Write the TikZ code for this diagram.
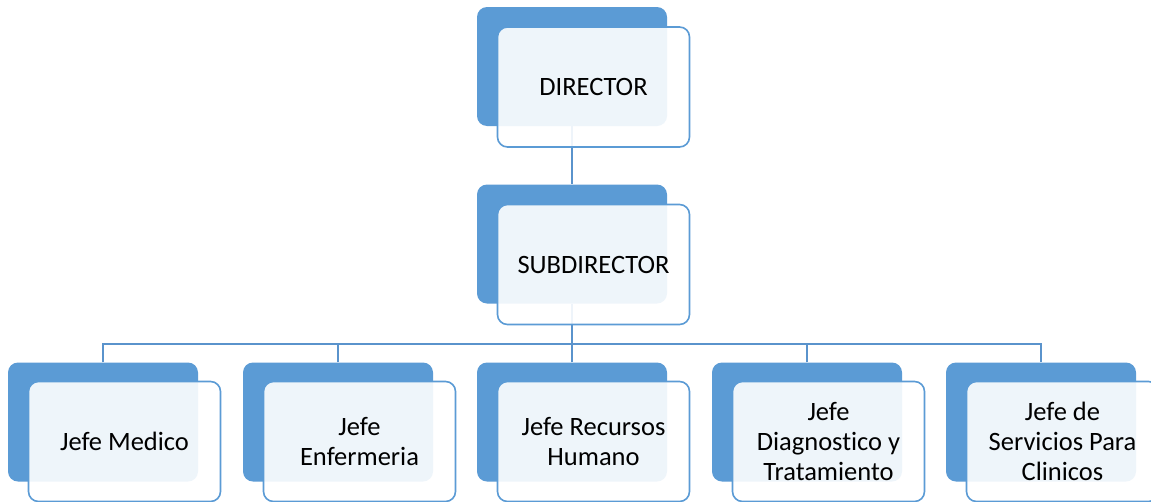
\documentclass[tikz,border=0pt]{standalone}
\usepackage{fontspec}
\setmainfont[Ligatures=NoCommon]{Carlito}
\definecolor{oblue}{HTML}{5B9BD5}
\definecolor{lblue}{HTML}{5A93CC}
\begin{document}
\begin{tikzpicture}[x=1pt,y=-1pt,
  backbox/.style={fill=oblue, draw=none, rounded corners=10pt, minimum width=190pt, minimum height=119pt, inner sep=0pt},
  frontbox/.style={draw=oblue, line width=1.6pt, fill=white, fill opacity=0.9, text opacity=1, text=black, rounded corners=10pt, minimum width=192pt, minimum height=120pt, inner sep=0pt, align=center, font=\fontsize{26.5pt}{30pt}\selectfont},
  conn/.style={draw=lblue, line width=2.2pt}]
\clip (0,0) rectangle (1151,501);
\useasboundingbox (0,0) rectangle (1151,501);
\fill[white] (0,0) rectangle (1151,501);
% back boxes
\node[backbox] (db) at (572,66.5) {};
\node[backbox] (sb) at (572,244) {};
\node[backbox] (c1b) at (103,422) {};
\node[backbox] (c2b) at (338,422) {};
\node[backbox] (c3b) at (572,422) {};
\node[backbox] (c4b) at (807,422) {};
\node[backbox] (c5b) at (1041,422) {};
% connectors
\coordinate (bus) at (572,344);
\draw[conn] (db.south) -- (sb.north);
\draw[conn] (sb.south) -- (bus);
\draw[conn] (c1b.north) |- (bus) -| (c5b.north);
\draw[conn] (c2b.north) -- (c2b.north |- bus);
\draw[conn] (c3b.north) -- (c3b.north |- bus);
\draw[conn] (c4b.north) -- (c4b.north |- bus);
% front boxes
\node[frontbox] (d) at (593.5,87) {DIRECTOR};
\node[frontbox] (s) at (593.5,264.5) {SUBDIRECTOR};
\node[frontbox] (c1) at (124.5,441.5) {Jefe Medico};
\node[frontbox] (c2) at (359.5,441.5) {Jefe\\Enfermeria};
\node[frontbox] (c3) at (593.5,441.5) {Jefe Recursos\\Humano};
\node[frontbox] (c4) at (828.5,441.5) {Jefe\\Diagnostico y\\Tratamiento};
\node[frontbox] (c5) at (1062.5,441.5) {Jefe de\\Servicios Para\\Clinicos};
\end{tikzpicture}
\end{document}
